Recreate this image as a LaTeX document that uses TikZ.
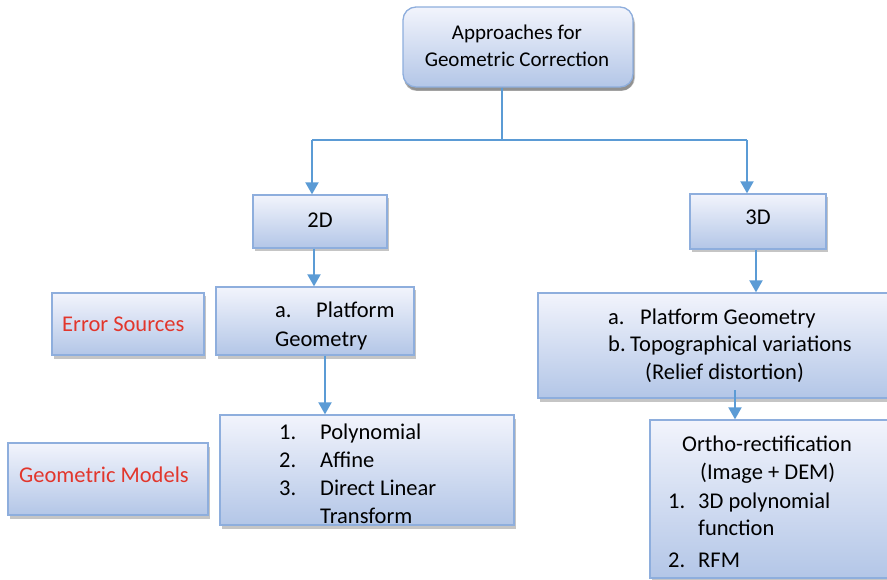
\documentclass[tikz,border=0pt]{standalone}
\usepackage{fontspec}
\setmainfont{Carlito}
\usetikzlibrary{shadows,arrows.meta,calc}
\definecolor{boxline}{HTML}{8EAEDD}
\definecolor{boxtop}{HTML}{F2F4FC}
\definecolor{boxbot}{HTML}{B3C6E7}
\definecolor{arrowblue}{HTML}{5B9BD5}
\definecolor{labelred}{HTML}{E2362C}
\tikzset{
  box/.style={draw=boxline, line width=1.3pt, top color=boxtop, bottom color=boxbot,
    inner sep=0pt, drop shadow={shadow xshift=2pt, shadow yshift=-3.5pt, fill=black!45, opacity=0.5}},
  rootbox/.style={box, rounded corners=13pt,
    drop shadow={shadow xshift=1pt, shadow yshift=-4pt, fill=black!60, opacity=0.55}},
  txt/.style={inner sep=0pt, anchor=base west, font=\fontsize{22.5}{28}\selectfont},
  roottxt/.style={txt, anchor=base, font=\fontsize{21}{27}\selectfont},
  flow/.style={draw=arrowblue, line width=2pt, -{Triangle[width=13pt,length=12pt]}},
  trunk/.style={draw=arrowblue, line width=1.2pt},
}
\begin{document}
\begin{tikzpicture}[x=1pt,y=-1pt]
\useasboundingbox (0,0) rectangle (887,580);
\clip (0,0) rectangle (887,580);

% boxes
\node[rootbox, minimum width=230pt, minimum height=80pt] (root) at (518,47) {};
\node[box, minimum width=134pt, minimum height=53pt] (d2) at (320,221.5) {};
\node[box, minimum width=136pt, minimum height=55pt] (d3) at (758,221.5) {};
\node[box, minimum width=198pt, minimum height=68pt] (p2) at (315,321) {};
\node[box, minimum width=152pt, minimum height=62pt] (err) at (128,324) {};
\node[box, minimum width=294pt, minimum height=110pt] (poly) at (367,470) {};
\node[box, minimum width=200pt, minimum height=72pt] (geo) at (108,479) {};
\node[box, minimum width=362pt, minimum height=105pt] (p3) at (719,345.5) {};
\node[box, minimum width=250pt, minimum height=158pt] (ortho) at (775,499) {};

% texts
\node[roottxt] (t1) at (517,40) {Approaches for};
\node[roottxt] (t2) at (517,67) {Geometric Correction};
\node[txt, anchor=base] (t2d) at (320,228) {2D};
\node[txt, anchor=base] (t3d) at (758,225) {3D};

\node[txt] (pa) at (275,318) {a.};
\node[txt] (pb) at (316,318) {Platform};
\node[txt] (pc) at (275,346) {Geometry};

\node[txt, text=labelred] (es) at (62,332) {Error Sources};
\node[txt, text=labelred] (gm) at (19,482) {Geometric Models};

\node[txt] (n1) at (279,439) {1.};
\node[txt] (m1) at (320,439) {Polynomial};
\node[txt] (n2) at (279,467) {2.};
\node[txt] (m2) at (320,467) {Affine};
\node[txt] (n3) at (279,495) {3.};
\node[txt] (m3) at (320,495) {Direct Linear};
\node[txt] (m4) at (320,523) {Transform};

\node[txt] (qa) at (608,324) {a.};
\node[txt] (qb) at (640,324) {Platform Geometry};
\node[txt] (qc) at (608,352) {b.};
\node[txt] (qd) at (630,352) {Topographical variations};
\node[txt] (qe) at (645,379) {(Relief distortion)};

\node[txt] (o1) at (682,451) {Ortho-rectification};
\node[txt] (o2) at (700,479) {(Image + DEM)};
\node[txt] (o3) at (668,508) {1.};
\node[txt] (o4) at (698,508) {3D polynomial};
\node[txt] (o5) at (698,535) {function};
\node[txt] (o6) at (668,567) {2.};
\node[txt] (o7) at (698,567) {RFM};

% connectors
\coordinate (j) at (502,140);
\coordinate (jl) at (312,140);
\coordinate (jr) at (747,140);
\coordinate (a2) at (314,0);
\coordinate (a3) at (325,0);
\coordinate (a4) at (756,0);
\coordinate (a5) at (735,390);
\draw[trunk] (root.south -| j) -- (j);
\draw[trunk] (jl) -- (jr);
\draw[flow] (jl) -- (jl |- d2.north);
\draw[flow] (jr) -- (jr |- d3.north);
\draw[flow] (d2.south -| a2) -- (p2.north -| a2);
\draw[flow] (p2.south -| a3) -- (poly.north -| a3);
\draw[flow] (d3.south -| a4) -- (p3.north -| a4);
\draw[flow] (a5) -- (a5 |- ortho.north);
\end{tikzpicture}
\end{document}
